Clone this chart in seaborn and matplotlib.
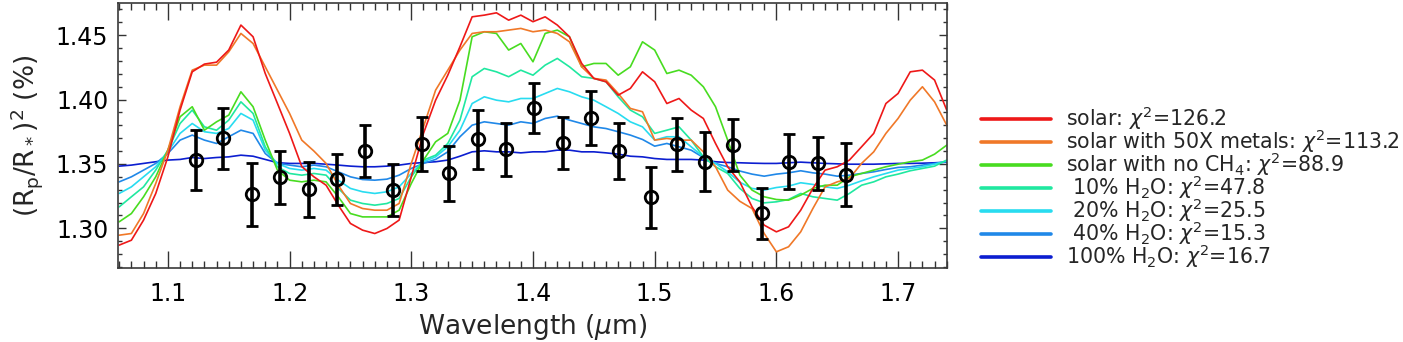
import numpy as np
import pandas as pd
import seaborn as sns
import matplotlib.pyplot as plt
from matplotlib.lines import Line2D
from matplotlib.ticker import MultipleLocator, FormatStrFormatter

sns.set_style('ticks')
plt.rcParams['font.family'] = ['DejaVu Sans']
plt.rcParams['mathtext.fontset'] = 'dejavusans'

# model wavelength grid (microns)
wavelength = [1.06, 1.07, 1.08, 1.09, 1.10, 1.11, 1.12, 1.13, 1.14, 1.15,
              1.16, 1.17, 1.18, 1.19, 1.20, 1.21, 1.22, 1.23, 1.24, 1.25,
              1.26, 1.27, 1.28, 1.29, 1.30, 1.31, 1.32, 1.33, 1.34, 1.35,
              1.36, 1.37, 1.38, 1.39, 1.40, 1.41, 1.42, 1.43, 1.44, 1.45,
              1.46, 1.47, 1.48, 1.49, 1.50, 1.51, 1.52, 1.53, 1.54, 1.55,
              1.56, 1.57, 1.58, 1.59, 1.60, 1.61, 1.62, 1.63, 1.64, 1.65,
              1.66, 1.67, 1.68, 1.69, 1.70, 1.71, 1.72, 1.73, 1.74]

solar = [1.2870, 1.2908, 1.3064, 1.3270, 1.3555, 1.3918, 1.4215, 1.4275, 1.4290, 1.4384,
         1.4578, 1.4487, 1.4202, 1.3970, 1.3737, 1.3480, 1.3400, 1.3335, 1.3180, 1.3038,
         1.2986, 1.2960, 1.2999, 1.3064, 1.3400, 1.3737, 1.3995, 1.4189, 1.4410, 1.4642,
         1.4655, 1.4673, 1.4616, 1.4655, 1.4604, 1.4642, 1.4578, 1.4487, 1.4280, 1.4164,
         1.4138, 1.4034, 1.4086, 1.4215, 1.4138, 1.3969, 1.4008, 1.3918, 1.3853, 1.3659,
         1.3478, 1.3360, 1.3167, 1.3025, 1.2973, 1.3012, 1.3141, 1.3310, 1.3452, 1.3478,
         1.3530, 1.3633, 1.3737, 1.3969, 1.4047, 1.4215, 1.4228, 1.4151, 1.3918]

metals50 = [1.2947, 1.2960, 1.3115, 1.3348, 1.3607, 1.3944, 1.4228, 1.4267, 1.4267, 1.4370,
            1.4513, 1.4435, 1.4254, 1.4073, 1.3892, 1.3685, 1.3600, 1.3504, 1.3335, 1.3193,
            1.3154, 1.3141, 1.3141, 1.3193, 1.3504, 1.3788, 1.4073, 1.4228, 1.4384, 1.4513,
            1.4526, 1.4526, 1.4539, 1.4552, 1.4526, 1.4539, 1.4513, 1.4448, 1.4254, 1.4164,
            1.4151, 1.4047, 1.3931, 1.3905, 1.3685, 1.3698, 1.3685, 1.3685, 1.3594, 1.3478,
            1.3297, 1.3210, 1.3154, 1.2960, 1.2818, 1.2857, 1.2973, 1.3154, 1.3322, 1.3361,
            1.3387, 1.3504, 1.3594, 1.3737, 1.3853, 1.3995, 1.4099, 1.3982, 1.3801]

no_ch4 = [1.3051, 1.3115, 1.3245, 1.3400, 1.3607, 1.3866, 1.3944, 1.3762, 1.3827, 1.3879,
          1.4060, 1.3944, 1.3685, 1.3452, 1.3374, 1.3361, 1.3374, 1.3361, 1.3245, 1.3115,
          1.3089, 1.3089, 1.3089, 1.3141, 1.3348, 1.3530, 1.3672, 1.3737, 1.3995, 1.4487,
          1.4526, 1.4513, 1.4384, 1.4435, 1.4293, 1.4513, 1.4539, 1.4487, 1.4254, 1.4280,
          1.4280, 1.4189, 1.4254, 1.4448, 1.4384, 1.4202, 1.4228, 1.4189, 1.4099, 1.3944,
          1.3685, 1.3413, 1.3297, 1.3245, 1.3224, 1.3219, 1.3258, 1.3310, 1.3335, 1.3335,
          1.3400, 1.3426, 1.3452, 1.3478, 1.3498, 1.3517, 1.3530, 1.3576, 1.3646]

h2o_10 = [1.3167, 1.3245, 1.3322, 1.3452, 1.3607, 1.3814, 1.3918, 1.3788, 1.3762, 1.3840,
          1.3982, 1.3892, 1.3633, 1.3478, 1.3426, 1.3413, 1.3426, 1.3413, 1.3310, 1.3219,
          1.3193, 1.3180, 1.3193, 1.3232, 1.3400, 1.3530, 1.3568, 1.3659, 1.3840, 1.4177,
          1.4241, 1.4215, 1.4177, 1.4228, 1.4189, 1.4267, 1.4319, 1.4254, 1.4177, 1.4164,
          1.4138, 1.4021, 1.3918, 1.3866, 1.3737, 1.3762, 1.3788, 1.3685, 1.3555, 1.3478,
          1.3426, 1.3310, 1.3232, 1.3198, 1.3206, 1.3224, 1.3271, 1.3245, 1.3232, 1.3219,
          1.3271, 1.3335, 1.3361, 1.3400, 1.3421, 1.3447, 1.3465, 1.3483, 1.3530]

h2o_20 = [1.3271, 1.3322, 1.3400, 1.3478, 1.3594, 1.3737, 1.3814, 1.3750, 1.3737, 1.3775,
          1.3892, 1.3840, 1.3607, 1.3504, 1.3465, 1.3452, 1.3465, 1.3452, 1.3374, 1.3310,
          1.3284, 1.3271, 1.3284, 1.3322, 1.3426, 1.3517, 1.3555, 1.3633, 1.3762, 1.3969,
          1.4021, 1.3995, 1.3982, 1.4008, 1.4008, 1.4047, 1.4086, 1.4060, 1.4021, 1.3995,
          1.3944, 1.3892, 1.3827, 1.3788, 1.3685, 1.3711, 1.3711, 1.3633, 1.3555, 1.3504,
          1.3439, 1.3358, 1.3310, 1.3297, 1.3317, 1.3328, 1.3354, 1.3341, 1.3322, 1.3310,
          1.3335, 1.3369, 1.3400, 1.3426, 1.3452, 1.3465, 1.3478, 1.3498, 1.3524]

h2o_40 = [1.3361, 1.3400, 1.3452, 1.3504, 1.3581, 1.3685, 1.3724, 1.3685, 1.3659, 1.3711,
          1.3762, 1.3737, 1.3581, 1.3504, 1.3491, 1.3478, 1.3491, 1.3478, 1.3439, 1.3400,
          1.3379, 1.3374, 1.3382, 1.3413, 1.3465, 1.3504, 1.3535, 1.3594, 1.3711, 1.3801,
          1.3827, 1.3814, 1.3801, 1.3827, 1.3814, 1.3853, 1.3871, 1.3840, 1.3814, 1.3788,
          1.3775, 1.3750, 1.3724, 1.3690, 1.3638, 1.3659, 1.3633, 1.3607, 1.3550, 1.3504,
          1.3478, 1.3445, 1.3421, 1.3405, 1.3421, 1.3431, 1.3447, 1.3431, 1.3421, 1.3405,
          1.3413, 1.3426, 1.3439, 1.3457, 1.3473, 1.3478, 1.3491, 1.3504, 1.3517]

h2o_100 = [1.3483, 1.3491, 1.3504, 1.3517, 1.3530, 1.3535, 1.3550, 1.3542, 1.3550, 1.3555,
           1.3568, 1.3560, 1.3535, 1.3510, 1.3504, 1.3504, 1.3504, 1.3498, 1.3491, 1.3483,
           1.3478, 1.3478, 1.3483, 1.3491, 1.3504, 1.3511, 1.3517, 1.3530, 1.3560, 1.3594,
           1.3602, 1.3594, 1.3594, 1.3586, 1.3594, 1.3594, 1.3607, 1.3607, 1.3594, 1.3594,
           1.3586, 1.3576, 1.3560, 1.3555, 1.3542, 1.3535, 1.3535, 1.3535, 1.3530, 1.3517,
           1.3511, 1.3509, 1.3506, 1.3504, 1.3504, 1.3509, 1.3514, 1.3509, 1.3504, 1.3501,
           1.3498, 1.3498, 1.3498, 1.3501, 1.3504, 1.3504, 1.3506, 1.3509, 1.3514]

# observed transit depths
obs_wl = [1.1228, 1.1455, 1.1693, 1.1920, 1.2159, 1.2386, 1.2619, 1.2851,
          1.3084, 1.3312, 1.3545, 1.3777, 1.4008, 1.4248, 1.4476, 1.4708,
          1.4969, 1.5180, 1.5413, 1.5645, 1.5878, 1.6105, 1.6338, 1.6571]
obs_depth = [1.3530, 1.3698, 1.3265, 1.3395, 1.3304, 1.3382, 1.3599, 1.3297,
             1.3654, 1.3426, 1.3690, 1.3613, 1.3931, 1.3664, 1.3858, 1.3599,
             1.3240, 1.3651, 1.3516, 1.3646, 1.3116, 1.3516, 1.3504, 1.3418]
obs_err = [0.0233, 0.0240, 0.0245, 0.0207, 0.0213, 0.0199, 0.0200, 0.0204,
           0.0207, 0.0211, 0.0229, 0.0206, 0.0194, 0.0202, 0.0211, 0.0217,
           0.0237, 0.0205, 0.0229, 0.0199, 0.0199, 0.0213, 0.0207, 0.0243]

labels = [r'solar: $\chi^2$=126.2',
          r'solar with 50X metals: $\chi^2$=113.2',
          r'solar with no CH$_4$: $\chi^2$=88.9',
          r' 10% H$_2$O: $\chi^2$=47.8',
          r' 20% H$_2$O: $\chi^2$=25.5',
          r' 40% H$_2$O: $\chi^2$=15.3',
          r'100% H$_2$O: $\chi^2$=16.7']
colors = ['#ee1818', '#f07828', '#48dc20', '#20e8a0', '#28dcf0', '#2088e8', '#0c1ed0']
series = [solar, metals50, no_ch4, h2o_10, h2o_20, h2o_40, h2o_100]

models = pd.concat([pd.DataFrame({'wavelength': wavelength, 'depth': s, 'model': lab})
                    for s, lab in zip(series, labels)], ignore_index=True)

fig = plt.figure(figsize=(14.03, 3.42), dpi=100)
ax = fig.add_axes([0.0841, 0.2155, 0.5907, 0.7745])

sns.lineplot(data=models, x='wavelength', y='depth', hue='model', hue_order=labels[::-1],
             palette=dict(zip(labels, colors)), estimator=None, sort=False,
             linewidth=1.2, legend=False, ax=ax)

ax.errorbar(obs_wl, obs_depth, yerr=obs_err, fmt='o', ms=9, mfc='none', mec='black',
            mew=2.0, ecolor='black', elinewidth=2.6, capsize=4.5, capthick=2.6, zorder=5)

ax.set_xlim(1.059, 1.74)
ax.set_ylim(1.269, 1.4746)
ax.xaxis.set_major_locator(MultipleLocator(0.1))
ax.xaxis.set_minor_locator(MultipleLocator(0.01))
ax.yaxis.set_major_locator(MultipleLocator(0.05))
ax.yaxis.set_minor_locator(MultipleLocator(0.01))
ax.yaxis.set_major_formatter(FormatStrFormatter('%.2f'))
ax.xaxis.set_major_formatter(FormatStrFormatter('%.1f'))

ax.tick_params(axis='both', which='both', direction='in', top=True, right=True,
               colors='#333333', labelcolor='black', width=1.0)
ax.tick_params(axis='x', which='major', length=12, pad=10, labelsize=17)
ax.tick_params(axis='x', which='minor', length=5)
ax.tick_params(axis='y', which='major', length=6, pad=7, labelsize=17)
ax.tick_params(axis='y', which='minor', length=3)
for sp in ax.spines.values():
    sp.set_color('#3a3a3a')
    sp.set_linewidth(1.2)

ax.set_xlabel(r'Wavelength ($\mu$m)', fontsize=19, labelpad=4)
ax.set_ylabel(r'(R$_\mathrm{p}$/R$_*$)$^2$ (%)', fontsize=19, labelpad=8)

handles = [Line2D([0], [0], color=c, lw=2.6) for c in colors]
fig.legend(handles, labels, loc='upper left', bbox_to_anchor=(0.6995, 0.695),
           frameon=False, fontsize=14.8, handlelength=3.4, handletextpad=0.7,
           labelspacing=-0.22, borderpad=0, borderaxespad=0)

fig.savefig('out.png', dpi=100)
